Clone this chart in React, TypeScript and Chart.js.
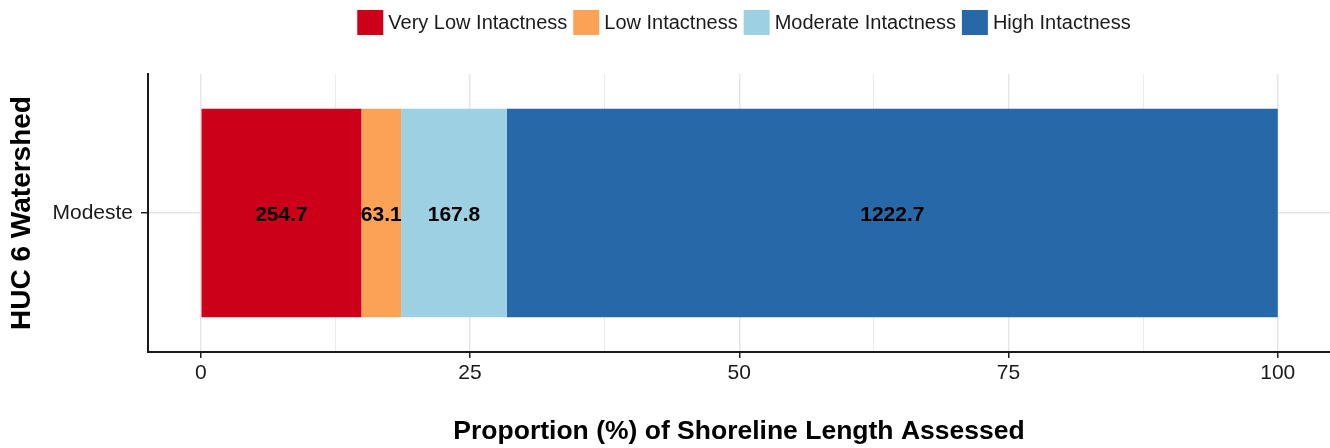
import React, { useEffect, useRef } from "react";
import { Chart, registerables } from "chart.js";

Chart.register(...registerables);

const FONT = "'Liberation Sans', Arial, Helvetica, sans-serif";

const categories = ["Modeste"];
const seriesNames = [
  "Very Low Intactness",
  "Low Intactness",
  "Moderate Intactness",
  "High Intactness",
];
// shoreline length (labels shown on the bars)
const shorelineLengths = [254.7, 63.1, 167.8, 1222.7];
const seriesColors = ["#CC0019", "#FCA257", "#9ED0E3", "#2768A9"];
const xMajorTicks = [0, 25, 50, 75, 100];
const xMinorTicks = [12.5, 37.5, 62.5, 87.5];
const xAxisTitle = "Proportion (%) of Shoreline Length Assessed";
const yAxisTitle = "HUC 6 Watershed";

const totalLength = shorelineLengths.reduce((a, b) => a + b, 0);
const shares = shorelineLengths.map((v) => (v / totalLength) * 100);

const legendPlugin = {
  id: "customLegend",
  afterDraw(chart: any) {
    const ctx = chart.ctx;
    const area = chart.chartArea;
    ctx.save();
    ctx.font = `20px ${FONT}`;
    const box = 25;
    const gapText = 6;
    const gapItem = 6;
    const widths = seriesNames.map((n) => box + gapText + ctx.measureText(n).width);
    const total = widths.reduce((a, b) => a + b, 0) + gapItem * (seriesNames.length - 1);
    let x = (area.left + area.right) / 2 + 5 - total / 2;
    const y = 10;
    seriesNames.forEach((name, i) => {
      ctx.fillStyle = seriesColors[i];
      ctx.fillRect(x, y, box + 1, box);
      ctx.fillStyle = "#1a1a1a";
      ctx.textAlign = "left";
      ctx.textBaseline = "middle";
      ctx.fillText(name, x + box + gapText, y + box / 2 + 1);
      x += widths[i] + gapItem;
    });
    ctx.restore();
  },
};

const valueLabelPlugin = {
  id: "valueLabels",
  afterDatasetsDraw(chart: any) {
    const ctx = chart.ctx;
    ctx.save();
    ctx.font = `bold 21px ${FONT}`;
    ctx.fillStyle = "#000";
    ctx.textAlign = "center";
    ctx.textBaseline = "middle";
    chart.data.datasets.forEach((ds: any, i: number) => {
      const meta = chart.getDatasetMeta(i);
      meta.data.forEach((el: any) => {
        const cx = (el.x + el.base) / 2;
        ctx.fillText(shorelineLengths[i].toFixed(1), cx, el.y + 2);
      });
    });
    ctx.restore();
  },
};

export default function App() {
  const canvasRef = useRef<HTMLCanvasElement | null>(null);

  useEffect(() => {
    if (!canvasRef.current) return;
    const isMajor = (v: number) => xMajorTicks.includes(v);
    const chart = new Chart(canvasRef.current, {
      type: "bar",
      data: {
        labels: categories,
        datasets: seriesNames.map((name, i) => ({
          label: name,
          data: [shares[i]],
          backgroundColor: seriesColors[i],
          borderWidth: 0,
          barPercentage: 0.75,
          categoryPercentage: 1,
        })),
      },
      options: {
        indexAxis: "y",
        animation: false,
        responsive: false,
        maintainAspectRatio: false,
        layout: { padding: { top: 74, left: 0, right: 0, bottom: 0 } },
        plugins: {
          legend: { display: false },
          tooltip: { enabled: false },
        },
        scales: {
          x: {
            type: "linear",
            stacked: true,
            min: -4.9,
            max: 104.85,
            afterBuildTicks: (s: any) => {
              s.ticks = [...xMajorTicks, ...xMinorTicks]
                .sort((a, b) => a - b)
                .map((v) => ({ value: v }));
            },
            ticks: {
              autoSkip: false,
              maxRotation: 0,
              padding: 3,
              color: "#1a1a1a",
              font: { family: FONT, size: 21 },
              callback: (v: any) => (isMajor(Number(v)) ? String(v) : ""),
            },
            grid: {
              color: "#e6e6e6",
              lineWidth: (c: any) => (c.tick && isMajor(c.tick.value) ? 1.5 : 0.8),
              tickLength: 6,
              tickWidth: 1.5,
              tickColor: (c: any) =>
                c.tick && isMajor(c.tick.value) ? "#222" : "rgba(0,0,0,0)",
            },
            border: { display: true, color: "#1a1a1a", width: 2 },
            title: {
              display: true,
              text: xAxisTitle,
              color: "#000",
              font: { family: FONT, size: 26.5, weight: "bold", lineHeight: 1.2 },
              padding: { top: 0, bottom: 0 },
            },
            afterFit: (s: any) => {
              s.height = 96;
            },
          } as any,
          y: {
            type: "category",
            stacked: true,
            offset: true,
            ticks: {
              padding: 8,
              color: "#1a1a1a",
              font: { family: FONT, size: 21 },
            },
            grid: {
              offset: false,
              color: "#e6e6e6",
              lineWidth: 1.5,
              tickLength: 7,
              tickWidth: 1.5,
              tickColor: "#222",
            },
            border: { display: true, color: "#1a1a1a", width: 2 },
            title: {
              display: true,
              text: yAxisTitle,
              color: "#000",
              font: { family: FONT, size: 28, weight: "bold", lineHeight: 1.2 },
              padding: { top: 5, bottom: 0 },
            },
            afterFit: (s: any) => {
              s.width = 148;
            },
          } as any,
        },
      },
      plugins: [legendPlugin, valueLabelPlugin],
    });
    return () => chart.destroy();
  }, []);

  return (
    <div
      style={{
        position: "absolute",
        left: 0,
        top: 0,
        width: 1330,
        height: 448,
        background: "#fff",
      }}
    >
      <canvas ref={canvasRef} width={1330} height={448} style={{ display: "block" }} />
    </div>
  );
}
